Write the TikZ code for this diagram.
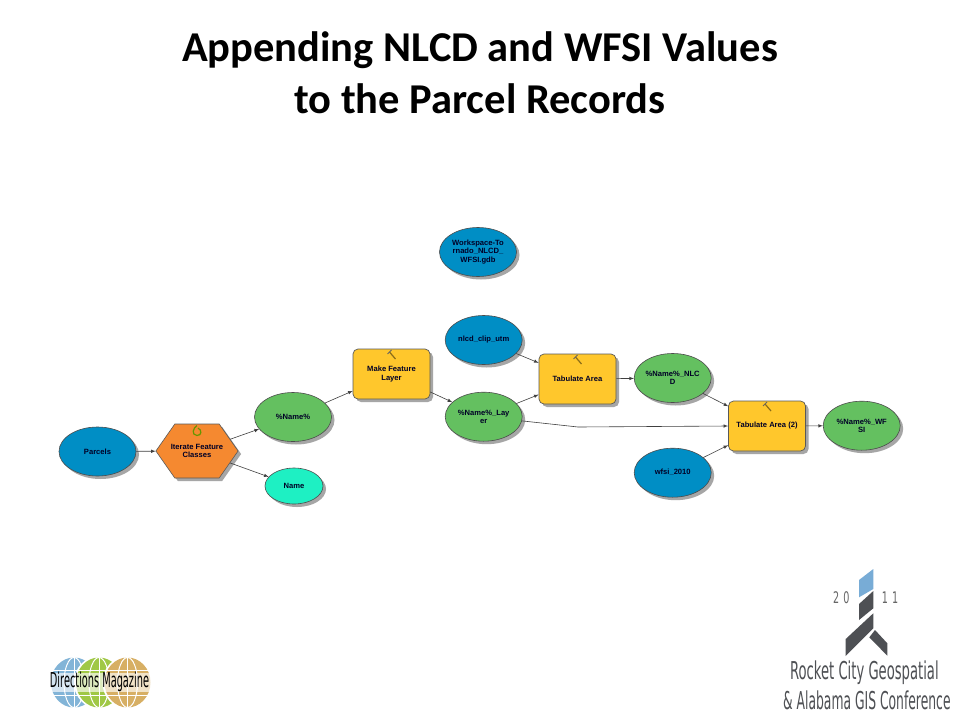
\documentclass[tikz,border=0pt]{standalone}
\usepackage{fontspec}
\setmainfont{Liberation Sans}
\newfontfamily\titlefont{Carlito}
\newfontfamily\logofont{DejaVu Sans}
\usetikzlibrary{shapes.geometric, shapes.symbols, shadows}
\definecolor{inputblue}{RGB}{0,142,197}
\definecolor{outgreen}{RGB}{100,192,96}
\definecolor{toolyellow}{RGB}{255,199,44}
\definecolor{iterorange}{RGB}{245,137,48}
\definecolor{nameteal}{RGB}{30,240,195}
\definecolor{rocketgrey}{RGB}{78,80,84}
\definecolor{rocketblue}{RGB}{120,172,214}
\definecolor{globeblue}{RGB}{130,180,215}
\definecolor{globegreen}{RGB}{160,200,70}
\definecolor{globetan}{RGB}{215,175,100}
\tikzset{
    shade3/.style={drop shadow={shadow xshift=3pt, shadow yshift=-3pt, fill=black!35, opacity=1}},
    modeltext/.style={font=\fontsize{7.6}{8.4}\selectfont\bfseries, text=black!85!blue, align=center, inner sep=0pt},
    blob/.style={ellipse, draw=black!70, line width=0.6pt, shade3, modeltext, minimum width=77pt, minimum height=49pt},
    datain/.style={blob, fill=inputblue},
    dataout/.style={blob, fill=outgreen},
    tool/.style={rectangle, rounded corners=5pt, draw=black!65, line width=0.7pt, fill=toolyellow, shade3, modeltext, minimum width=77pt, minimum height=50pt},
    flow/.style={->, >=latex, black!75, line width=0.6pt},
    year/.style={font=\logofont\fontsize{16}{18}\selectfont, text=black!60, xscale=0.6, inner sep=0pt},
    confname/.style={font=\logofont\fontsize{24.6}{28}\selectfont, text=rocketgrey, anchor=west, inner sep=0pt},
}
\begin{document}
\begin{tikzpicture}[x=1pt, y=-1pt]
    \useasboundingbox (0,0) rectangle (960,720);
    \fill[white] (0,0) rectangle (960,720);

    % title
    \node[font=\titlefont\fontsize{42.5}{51.5}\selectfont\bfseries, align=center, text=black] (title) at (480,72.5)
        {Appending NLCD and WFSI Values\\to the Parcel Records};

    % model elements
    \node[datain] (parcels) at (97.5,451.5) {Parcels};
    \node[shape=signal, signal to=east and west, signal pointer angle=110, draw=black!65, line width=0.6pt, fill=iterorange,
        shade3, modeltext, inner xsep=-4pt, minimum height=54pt] (iterate) at (197,451) {Iterate Feature\\Classes};
    \node[dataout] (name) at (293,417) {\%Name\%};
    \node[blob, fill=nameteal, minimum width=58pt, minimum height=36pt] (nameval) at (294,486) {Name};
    \node[tool] (makelayer) at (391.5,374) {Make Feature\\Layer};
    \node[datain] (workspace) at (478,252) {Workspace-To\\rnado\_NLCD\_\\WFSI.gdb};
    \node[datain] (nlcd) at (483.7,340) {nlcd\_clip\_utm};
    \node[dataout] (layer) at (483.7,416.7) {\%Name\%\_Lay\\er};
    \node[tool] (tab1) at (577.5,379) {Tabulate Area};
    \node[dataout] (nlcdout) at (672.7,378) {\%Name\%\_NLC\\D};
    \node[tool] (tab2) at (767,426) {Tabulate Area (2)};
    \node[datain] (wfsi) at (672.7,472.7) {wfsi\_2010};
    \node[dataout] (wfsiout) at (861.7,425.7) {\%Name\%\_WF\\SI};

    \coordinate (bend) at (578,427);

    % connectors
    \draw[flow] (parcels) -- (iterate);
    \draw[flow] (iterate) -- (name);
    \draw[flow] (iterate) -- (nameval);
    \draw[flow] (name) -- (makelayer);
    \draw[flow] (makelayer) -- (layer);
    \draw[flow] (layer) -- (tab1);
    \draw[flow] (nlcd) -- (tab1);
    \draw[flow] (tab1) -- (nlcdout);
    \draw[flow] (nlcdout) -- (tab2);
    \draw[flow] (wfsi) -- (tab2);
    \draw[flow] (layer) -- (bend) -- (tab2.west);
    \draw[flow] (tab2) -- (wfsiout);

    % hammers on the tools
    \foreach \x/\y in {391.5/353, 577.5/358, 767/405} {
        \draw[black!45!toolyellow, line width=1.2pt] (\x-2,\y-1) -- (\x+4,\y+6);
        \draw[black!60, line width=1pt] (\x-4,\y+1) -- (\x,\y-3);
    }
    % iterator loop
    \draw[black!35!green!60!orange, line width=1.2pt] (197,425.5) .. controls (193,428) and (191,435) .. (197,435.5)
        .. controls (202,435.5) and (202,430) .. (198,428);

    % rocket logo
    \fill[rocketblue] (859,580) -- (873.3,569) -- (873.3,589) -- (859,597.3) -- cycle;
    \fill[rocketgrey] (859,604) -- (873.3,591) -- (873.3,608.3) -- (859,620) -- cycle;
    \fill[rocketgrey] (845.7,639) -- (873.3,613.3) -- (873.3,628.3) -- (845.7,656) -- cycle;
    \fill[rocketgrey] (869.3,637.3) -- (875,630) -- (887.3,643.3) -- (887.3,655.7) -- cycle;
    \node[year] (twenty) at (841.3,598) {2\hspace{6.7pt}0};
    \node[year] (eleven) at (890,598) {1\hspace{6.7pt}1};
    \node[confname, xscale=0.535] (rocket) at (790,672.8) {Rocket City Geospatial};
    \node[confname, xscale=0.502] (alabama) at (783,700.8) {\& Alabama GIS Conference};

    % directions logo
    \foreach \c/\cx in {globeblue/74, globegreen/99, globetan/127.5} {
        \fill[white] (\cx,682.5) ellipse (25 and 26.5);
        \fill[\c] (\cx,682.5) ellipse (23 and 25);
        \draw[white, line width=1pt] (\cx,682.5) ellipse (10 and 25);
        \draw[white, line width=1pt] (\cx-22,670) -- (\cx+22,670) (\cx-22,695) -- (\cx+22,695) (\cx,658) -- (\cx,707);
    }
    \fill[white, opacity=0.65] (47,673) rectangle (152,692);
    \node[font=\logofont\fontsize{20.5}{23}\selectfont, xscale=0.477, inner sep=0pt] (directions) at (99.5,682) {Directions Magazine};
\end{tikzpicture}
\end{document}
